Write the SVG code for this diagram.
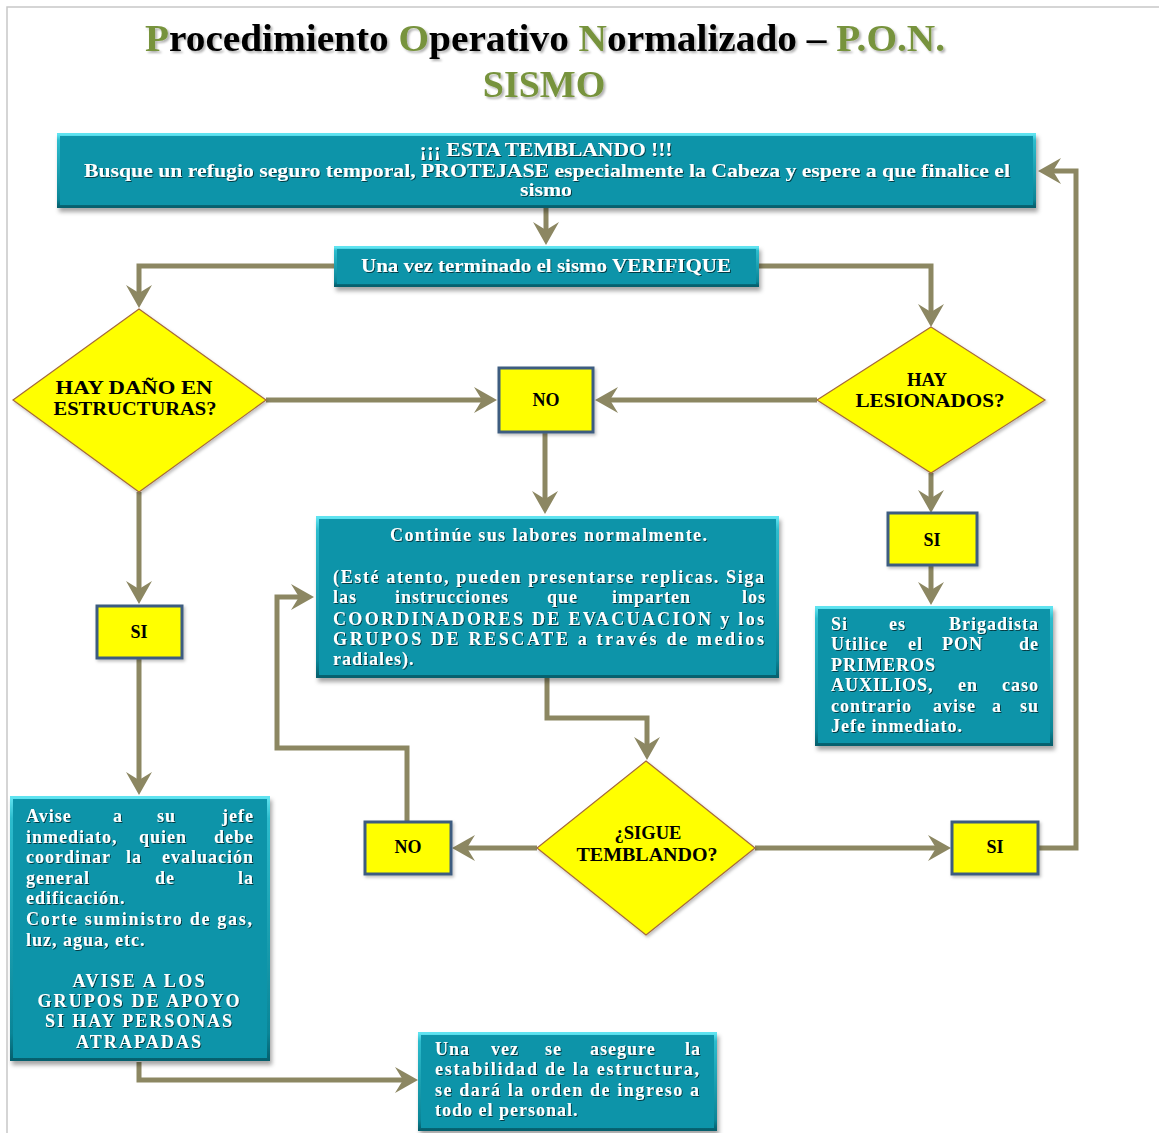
<svg xmlns="http://www.w3.org/2000/svg" width="1159" height="1133" viewBox="0 0 1159 1133">
<defs>
<style>
.conn{fill:none;stroke:#8C8762;stroke-width:5;stroke-linejoin:miter;marker-end:url(#ah)}
.tbox{fill:#0B94A9;filter:url(#sh)}
.bev{fill:none;stroke:url(#bevg);stroke-width:3}
.ybox{fill:#FFFF00;stroke:#3C5C80;stroke-width:3;filter:url(#sh2)}
.dia{fill:#FFFF00;stroke:#A5693A;stroke-width:1.2;filter:url(#sh2)}
.wt{font-family:"Liberation Serif","Times New Roman",serif;font-weight:bold;fill:#FFFFFF;filter:url(#ts)}
.body{font-size:18px;letter-spacing:1px}
.bt{font-family:"Liberation Serif","Times New Roman",serif;font-weight:bold;fill:#000;font-size:18px}
.title{font-family:"Liberation Serif","Times New Roman",serif;font-weight:bold;font-size:38px;fill:#000;filter:url(#tsh)}
.g{fill:#77933C}
</style>
<linearGradient id="bevg" x1="0" y1="0" x2="0" y2="1">
<stop offset="0" stop-color="#5FE3F0"/>
<stop offset="0.08" stop-color="#2DBCCD"/>
<stop offset="0.9" stop-color="#0A8597"/>
<stop offset="1" stop-color="#06606E"/>
</linearGradient>
<filter id="sh" x="-5%" y="-5%" width="115%" height="125%">
<feDropShadow dx="2" dy="4" stdDeviation="2" flood-color="#000" flood-opacity="0.35"/>
</filter>
<filter id="sh2" x="-10%" y="-10%" width="125%" height="125%">
<feDropShadow dx="1.5" dy="2" stdDeviation="1.5" flood-color="#000" flood-opacity="0.25"/>
</filter>
<filter id="ts" x="-5%" y="-20%" width="110%" height="150%">
<feDropShadow dx="1" dy="1" stdDeviation="0.6" flood-color="#000" flood-opacity="0.6"/>
</filter>
<filter id="tsh" x="-5%" y="-20%" width="110%" height="150%">
<feDropShadow dx="2" dy="2" stdDeviation="1" flood-color="#000" flood-opacity="0.3"/>
</filter>
<marker id="ah" markerUnits="userSpaceOnUse" markerWidth="32" markerHeight="32" viewBox="-16 -16 32 32" refX="0" refY="0" orient="auto">
<path d="M8,0 L-15,-13 L-7,0 L-15,13 Z" fill="#8C8762"/>
</marker>
</defs>

<rect width="1159" height="1133" fill="#FFFFFF"/>
<path d="M7,1133 V7 H1159" fill="none" stroke="#C8C8C8" stroke-width="1.5"/>

<g id="title">
<text x="145" y="51" textLength="800" lengthAdjust="spacingAndGlyphs" class="title"><tspan class="g">P</tspan>rocedimiento  <tspan class="g">O</tspan>perativo <tspan class="g">N</tspan>ormalizado – <tspan class="g">P.O.N.</tspan></text>
<text x="544" y="97" text-anchor="middle" class="title g">SISMO</text>
</g>

<g id="connectors">
<path class="conn" d="M546,208 V237"/>
<path class="conn" d="M334,266 H139 V300"/>
<path class="conn" d="M759,266 H931 V319"/>
<path class="conn" d="M266,400 H489"/>
<path class="conn" d="M817,400 H603"/>
<path class="conn" d="M545,432 V506"/>
<path class="conn" d="M139,492 V596"/>
<path class="conn" d="M139,658 V787"/>
<path class="conn" d="M139,1062 V1080 H410"/>
<path class="conn" d="M931,473 V505"/>
<path class="conn" d="M931,565 V597"/>
<path class="conn" d="M547,678 V718 H647 V752"/>
<path class="conn" d="M537,848 H460"/>
<path class="conn" d="M407,822 V748 H277 V597 H306"/>
<path class="conn" d="M755,848 H943"/>
<path class="conn" d="M1038,848 H1076 V171 H1046"/>
</g>

<g id="n-temblando">
<rect class="tbox" x="57" y="133" width="979" height="75"/>
<rect class="bev" x="58.5" y="134.5" width="976" height="72"/>
<text class="wt" font-size="19" x="546" y="156" text-anchor="middle" textLength="253" lengthAdjust="spacingAndGlyphs">¡¡¡ ESTA  TEMBLANDO   !!!</text>
<text class="wt" font-size="19" x="84" y="177" textLength="926" lengthAdjust="spacingAndGlyphs">Busque un refugio seguro temporal,  PROTEJASE  especialmente  la Cabeza  y espere a que finalice el</text>
<text class="wt" font-size="19" x="546" y="196" text-anchor="middle" textLength="52" lengthAdjust="spacingAndGlyphs">sismo</text>
</g>

<g id="n-verifique">
<rect class="tbox" x="334" y="246" width="425" height="41"/>
<rect class="bev" x="335.5" y="247.5" width="422" height="38"/>
<text class="wt" font-size="19" x="546" y="272" text-anchor="middle" textLength="370" lengthAdjust="spacingAndGlyphs">Una  vez  terminado  el sismo VERIFIQUE</text>
</g>

<g id="n-dano">
<polygon class="dia" points="139,309 266,400 139,492 13,400"/>
<text class="bt" x="134" y="394" text-anchor="middle" textLength="157" lengthAdjust="spacingAndGlyphs">HAY  DAÑO EN</text>
<text class="bt" x="135" y="415" text-anchor="middle" textLength="163" lengthAdjust="spacingAndGlyphs">ESTRUCTURAS?</text>
</g>

<g id="n-lesionados">
<polygon class="dia" points="931,327 1045,400 931,473 817,400"/>
<text class="bt" x="927" y="386" text-anchor="middle" textLength="40" lengthAdjust="spacingAndGlyphs">HAY</text>
<text class="bt" x="930" y="407" text-anchor="middle" textLength="149" lengthAdjust="spacingAndGlyphs">LESIONADOS?</text>
</g>

<g id="n-no1">
<rect class="ybox" x="499" y="368" width="94" height="64"/>
<text class="bt" x="546" y="406" text-anchor="middle" font-size="17">NO</text>
</g>

<g id="n-continue">
<rect class="tbox" x="316" y="516" width="463" height="162"/>
<rect class="bev" x="317.5" y="517.5" width="460" height="159"/>
<text class="wt body" x="549" y="541" text-anchor="middle" textLength="318" lengthAdjust="spacing">Continúe  sus labores  normalmente.</text>
<text class="wt body" x="333" y="583" textLength="432" lengthAdjust="spacing">(Esté atento, pueden presentarse replicas. Siga</text>
<text class="wt body" y="603"><tspan x="333">las</tspan><tspan x="395">instrucciones</tspan><tspan x="547">que</tspan><tspan x="612">imparten</tspan><tspan x="766" text-anchor="end">los</tspan></text>
<text class="wt body" x="333" y="625" textLength="432" lengthAdjust="spacing">COORDINADORES DE EVACUACION y los</text>
<text class="wt body" x="333" y="645" textLength="432" lengthAdjust="spacing">GRUPOS DE RESCATE a través de medios</text>
<text class="wt body" x="333" y="665">radiales).</text>
</g>

<g id="n-si1">
<rect class="ybox" x="97" y="606" width="85" height="52"/>
<text class="bt" x="139" y="638" text-anchor="middle" font-size="17">SI</text>
</g>

<g id="n-avise">
<rect class="tbox" x="10" y="796" width="260" height="265"/>
<rect class="bev" x="11.5" y="797.5" width="257" height="262"/>
<text class="wt body" y="822"><tspan x="26">Avise</tspan><tspan x="113">a</tspan><tspan x="157">su</tspan><tspan x="254" text-anchor="end">jefe</tspan></text>
<text class="wt body" y="843"><tspan x="26">inmediato,</tspan><tspan x="139">quien</tspan><tspan x="254" text-anchor="end">debe</tspan></text>
<text class="wt body" y="863"><tspan x="26">coordinar</tspan><tspan x="126">la</tspan><tspan x="254" text-anchor="end">evaluación</tspan></text>
<text class="wt body" y="884"><tspan x="26">general</tspan><tspan x="155">de</tspan><tspan x="254" text-anchor="end">la</tspan></text>
<text class="wt body" x="26" y="904">edificación.</text>
<text class="wt body" x="26" y="925" textLength="227" lengthAdjust="spacing">Corte suministro de gas,</text>
<text class="wt body" x="26" y="946">luz, agua, etc.</text>
<text class="wt body" x="139" y="987" text-anchor="middle" textLength="133" lengthAdjust="spacing">AVISE  A LOS</text>
<text class="wt body" x="139" y="1007" text-anchor="middle" textLength="203" lengthAdjust="spacing">GRUPOS  DE APOYO</text>
<text class="wt body" x="139" y="1027" text-anchor="middle" textLength="188" lengthAdjust="spacing">SI HAY  PERSONAS</text>
<text class="wt body" x="139" y="1048" text-anchor="middle" textLength="126" lengthAdjust="spacing">ATRAPADAS</text>
</g>

<g id="n-final">
<rect class="tbox" x="418" y="1032" width="299" height="99"/>
<rect class="bev" x="419.5" y="1033.5" width="296" height="96"/>
<text class="wt body" y="1055"><tspan x="435">Una</tspan><tspan x="491">vez</tspan><tspan x="545">se</tspan><tspan x="590">asegure</tspan><tspan x="701" text-anchor="end">la</tspan></text>
<text class="wt body" x="435" y="1075" textLength="265" lengthAdjust="spacing">estabilidad de la estructura,</text>
<text class="wt body" x="435" y="1096" textLength="265" lengthAdjust="spacing">se dará la orden de ingreso a</text>
<text class="wt body" x="435" y="1116">todo el personal.</text>
</g>

<g id="n-si2">
<rect class="ybox" x="888" y="513" width="89" height="52"/>
<text class="bt" x="932" y="546" text-anchor="middle" font-size="17">SI</text>
</g>

<g id="n-brigadista">
<rect class="tbox" x="815" y="606" width="238" height="140"/>
<rect class="bev" x="816.5" y="607.5" width="235" height="137"/>
<text class="wt body" y="630"><tspan x="831">Si</tspan><tspan x="889">es</tspan><tspan x="1039" text-anchor="end">Brigadista</tspan></text>
<text class="wt body" y="650"><tspan x="831">Utilice</tspan><tspan x="908">el</tspan><tspan x="942">PON</tspan><tspan x="1039" text-anchor="end">de</tspan></text>
<text class="wt body" x="831" y="671">PRIMEROS</text>
<text class="wt body" y="691"><tspan x="831">AUXILIOS,</tspan><tspan x="958">en</tspan><tspan x="1039" text-anchor="end">caso</tspan></text>
<text class="wt body" y="712"><tspan x="831">contrario</tspan><tspan x="933">avise</tspan><tspan x="992">a</tspan><tspan x="1039" text-anchor="end">su</tspan></text>
<text class="wt body" x="831" y="732">Jefe inmediato.</text>
</g>

<g id="n-sigue">
<polygon class="dia" points="646,761 755,848 646,935 537,848"/>
<text class="bt" x="648" y="839" text-anchor="middle" textLength="67" lengthAdjust="spacingAndGlyphs">¿SIGUE</text>
<text class="bt" x="647" y="861" text-anchor="middle" textLength="141" lengthAdjust="spacingAndGlyphs">TEMBLANDO?</text>
</g>

<g id="n-no2">
<rect class="ybox" x="365" y="822" width="86" height="52"/>
<text class="bt" x="408" y="853" text-anchor="middle" font-size="17">NO</text>
</g>

<g id="n-si3">
<rect class="ybox" x="952" y="822" width="86" height="52"/>
<text class="bt" x="995" y="853" text-anchor="middle" font-size="17">SI</text>
</g>
</svg>
